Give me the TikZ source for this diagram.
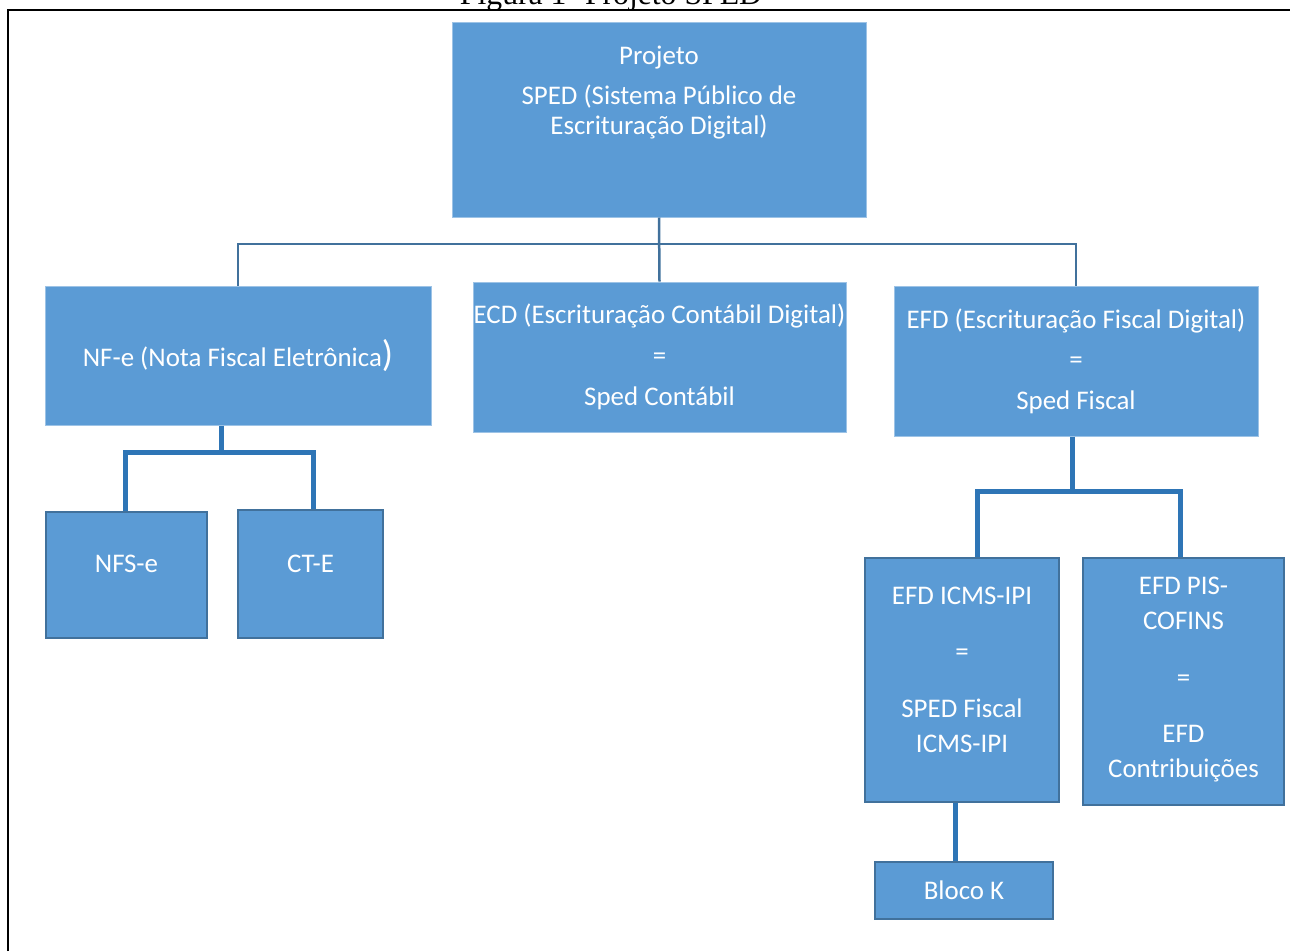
\documentclass[tikz,border=0pt]{standalone}
\usepackage{fontspec}
\setmainfont{Carlito}
\newfontfamily\timesfont{Liberation Serif}
\usetikzlibrary{calc}

\definecolor{blkfill}{HTML}{5B9BD5}
\definecolor{blkedge}{HTML}{41719C}
\definecolor{lightedge}{HTML}{9DC3E6}
\definecolor{treeline}{HTML}{2E75B6}

\tikzset{
  topblk/.style={rectangle, fill=blkfill, draw=lightedge, line width=1pt, text=white,
    align=center, inner sep=0pt},
  subblk/.style={rectangle, fill=blkfill, draw=blkedge, line width=2.5pt, text=white,
    align=center, inner sep=0pt},
  txt/.style={text=white, align=center},
  lnk/.style={draw=blkedge, line width=2.5pt},
  tree/.style={draw=treeline, line width=5pt},
}

\begin{document}
\begin{tikzpicture}[x=1pt, y=-1pt]
\useasboundingbox (0,0) rectangle (1290,951);
% caption and frame
\node[anchor=base, font=\timesfont\fontsize{31.7}{36}\selectfont] (fig) at (611,4) {Figura 1- Projeto SPED};
\draw[line width=2.5pt] (8,951) -- (8,10) -- (1290,10);

% first level
\node[topblk, minimum width=414, minimum height=195,
  label={[txt, yshift=27pt, font=\fontsize{26.9}{30}\selectfont]center:{Projeto\\[10pt]SPED (Sistema Público de\\Escrituração Digital)}}]
  (sped) at (659,119.5) {};
\node[topblk, minimum width=386, minimum height=139, font=\fontsize{26.9}{30}\selectfont]
  (nfe) at (238,355.5) {NF-e (Nota Fiscal Eletrônica{\fontsize{37}{37}\selectfont)}};
\node[topblk, minimum width=373, minimum height=150, font=\fontsize{26.9}{41}\selectfont]
  (ecd) at (659.5,357) {ECD (Escrituração Contábil Digital)\\=\\Sped Contábil};
\node[topblk, minimum width=364, minimum height=150, font=\fontsize{26.9}{40.5}\selectfont]
  (efd) at (1076,361) {EFD (Escrituração Fiscal Digital)\\=\\Sped Fiscal};

% second level
\node[subblk, minimum width=161, minimum height=126,
  label={[txt, yshift=11pt, font=\fontsize{26.9}{30}\selectfont]center:NFS-e}]
  (nfse) at (126.5,575) {};
\node[subblk, minimum width=145, minimum height=128,
  label={[txt, yshift=10pt, font=\fontsize{26.9}{30}\selectfont]center:CT-E}]
  (cte) at (310.5,574) {};
\node[subblk, minimum width=194, minimum height=244,
  label={[txt, yshift=10pt, font=\fontsize{26.9}{35}\selectfont]center:{EFD ICMS-IPI\\[21pt]=\\[22pt]SPED Fiscal\\ICMS-IPI}}]
  (icms) at (962,680) {};
\node[subblk, minimum width=201, minimum height=247,
  label={[txt, yshift=2pt, font=\fontsize{26.9}{35}\selectfont]center:{EFD PIS-\\COFINS\\[22pt]=\\[21pt]EFD\\Contribuições}}]
  (pis) at (1183.5,681.5) {};
\node[subblk, minimum width=178, minimum height=57, font=\fontsize{26.9}{30}\selectfont]
  (blocok) at (964,890.5) {Bloco K};

% connectors
\coordinate (bus) at (0,244);
\draw[lnk] (sped.south) -- (ecd.north);
\draw[lnk] (nfe.north) -- (nfe.north |- bus) -- (efd.north |- bus) -- (efd.north);

\draw[tree] ([xshift=-17pt]nfe.south) -- ++(0,27) coordinate (nfbar);
\draw[tree] ([xshift=-1.5pt]nfse.north) -- ([xshift=-1.5pt]nfse.north |- nfbar)
  -- ([xshift=2.5pt]cte.north |- nfbar) -- ([xshift=2.5pt]cte.north);

\draw[tree] ([xshift=-4pt]efd.south) -- ++(0,55) coordinate (efdbar);
\draw[tree] ([xshift=15pt]icms.north) -- ([xshift=15pt]icms.north |- efdbar)
  -- ([xshift=-3.5pt]pis.north |- efdbar) -- ([xshift=-3.5pt]pis.north);

\draw[tree] ([xshift=-7pt]icms.south) -- ([xshift=-9pt]blocok.north);
\end{tikzpicture}
\end{document}
